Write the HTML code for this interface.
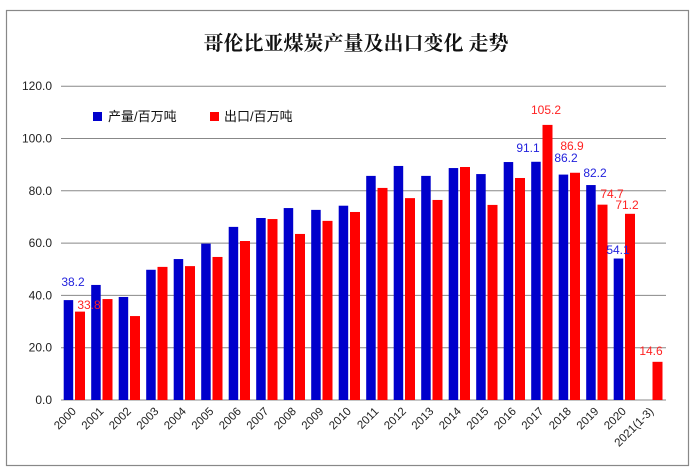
<!DOCTYPE html>
<html><head><meta charset="utf-8"><style>
html,body{margin:0;padding:0;background:#fff;}
svg{display:block;}
</style></head><body>
<svg width="695" height="475" viewBox="0 0 695 475" xmlns="http://www.w3.org/2000/svg" font-family="'Liberation Sans','Noto Sans CJK SC',sans-serif">
<rect x="0" y="0" width="695" height="475" fill="#fff"/>
<rect x="6.5" y="10.5" width="682" height="455" fill="none" stroke="#888" stroke-width="1.2"/>
<text x="356" y="50" text-anchor="middle" font-family="'Liberation Serif','Noto Serif CJK SC',serif" font-weight="bold" font-size="20" fill="#111">哥伦比亚煤炭产量及出口变化 走势</text>
<g id="grid" stroke="#888" stroke-width="1"></g>
<g id="ylab" font-size="12" fill="#222" text-anchor="end"></g>
<g id="bars"></g>
<g id="xlab" font-size="11.5" fill="#222" text-anchor="end"></g>
<rect x="93" y="112" width="9" height="9" fill="#0000CC"/>
<text x="108" y="121" font-size="13" fill="#111">产量/百万吨</text>
<rect x="210" y="112" width="9" height="9" fill="#FF0000"/>
<text x="224" y="121" font-size="13" fill="#111">出口/百万吨</text>
<g font-size="12" text-anchor="middle">
<text x="73" y="286" fill="#2222dd">38.2</text>
<text x="89" y="309" fill="#ff2222">33.8</text>
<text x="546" y="114" fill="#ff2222">105.2</text>
<text x="528" y="152" fill="#2222dd">91.1</text>
<text x="572" y="150" fill="#ff2222">86.9</text>
<text x="566" y="162" fill="#2222dd">86.2</text>
<text x="595" y="177" fill="#2222dd">82.2</text>
<text x="612" y="198" fill="#ff2222">74.7</text>
<text x="627" y="209" fill="#ff2222">71.2</text>
<text x="618" y="254" fill="#2222dd">54.1</text>
<text x="651" y="355" fill="#ff2222">14.6</text>
</g>
<script>
(function(){
var ns="http://www.w3.org/2000/svg";
function el(t,a,p,txt){var e=document.createElementNS(ns,t);for(var k in a)e.setAttribute(k,a[k]);if(txt!=null)e.textContent=txt;p.appendChild(e);return e;}
var y0=400,k=2.615,x0=61,cw=27.5;
var g=document.getElementById('grid'),yl=document.getElementById('ylab');
for(var v=0;v<=120;v+=20){var y=y0-v*k;el('line',{x1:61,x2:666,y1:y,y2:y},g);el('text',{x:52,y:y+4},yl,v.toFixed(1));}
var blue=[38.2,44.0,39.4,49.8,53.9,59.8,66.2,69.6,73.4,72.7,74.3,85.7,89.5,85.7,88.7,86.4,91.0,91.1,86.2,82.2,54.1,null];
var red=[33.8,38.6,32.1,50.9,51.2,54.7,60.8,69.2,63.5,68.5,71.9,81.1,77.2,76.5,89.1,74.6,84.9,105.2,86.9,74.7,71.2,14.6];
var labs=['2000','2001','2002','2003','2004','2005','2006','2007','2008','2009','2010','2011','2012','2013','2014','2015','2016','2017','2018','2019','2020','2021(1-3)'];
var b=document.getElementById('bars'),xl=document.getElementById('xlab');
for(var i=0;i<22;i++){var cx=x0+i*cw;
if(blue[i]!=null)el('rect',{x:cx+2.7,y:y0-blue[i]*k,width:9.5,height:blue[i]*k,fill:'#0000CC'},b);
el('rect',{x:cx+14,y:y0-red[i]*k,width:10,height:red[i]*k,fill:'#FF0000'},b);
var tx=cx+cw/2+2,ty=412;
el('text',{x:tx,y:ty,transform:'rotate(-45 '+tx+' '+ty+')'},xl,labs[i]);}
})();
</script>
</svg>
</body></html>
